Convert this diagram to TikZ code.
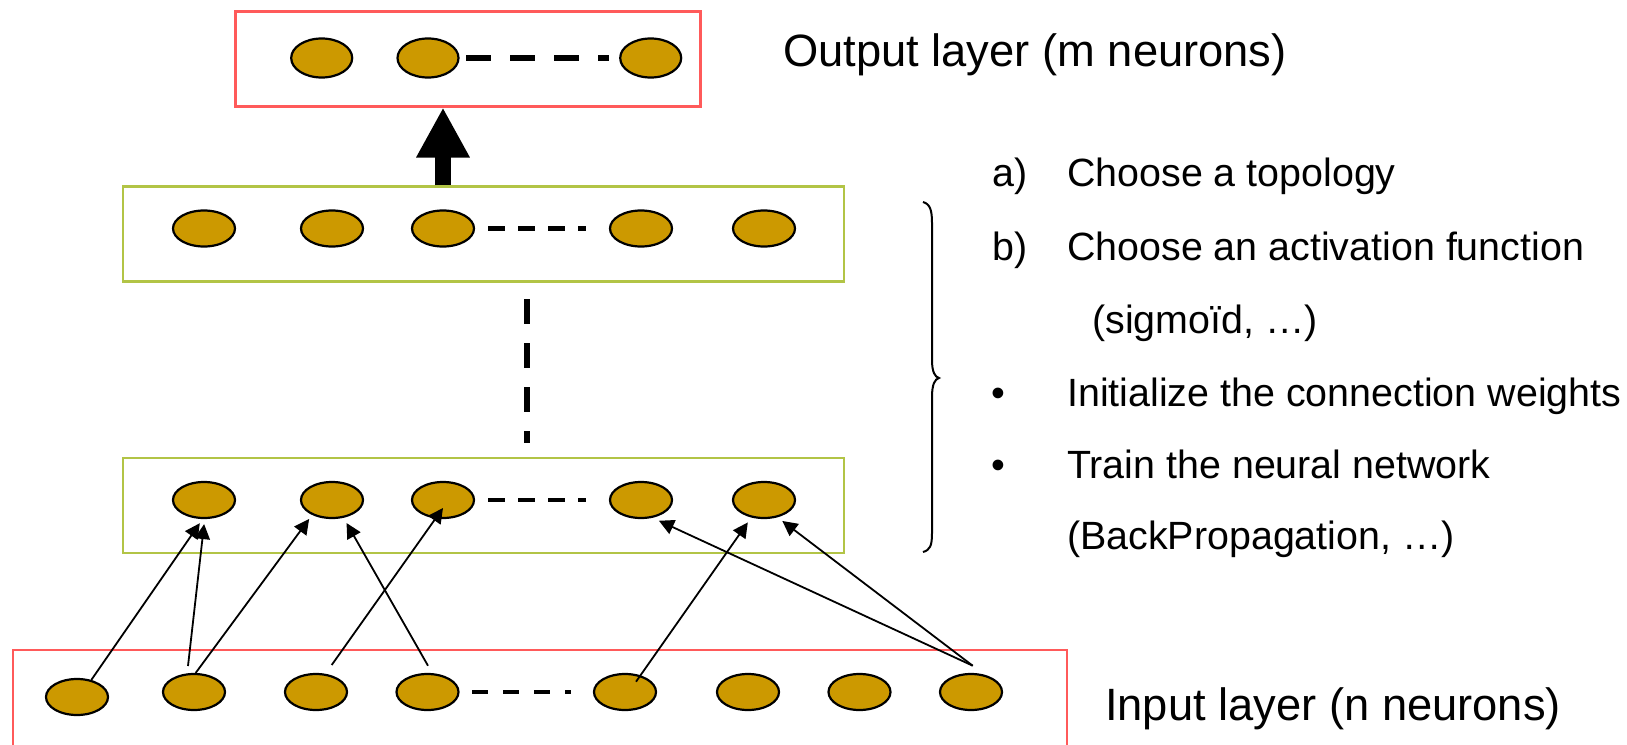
\documentclass[tikz,border=0pt]{standalone}
\usepackage{fontspec}
\setmainfont{Liberation Sans}
\usepackage{xcolor}
\usepackage{tikz}
\usetikzlibrary{arrows.meta,calc,shapes.geometric}

\definecolor{neurongold}{RGB}{204,153,0}
\definecolor{layerred}{RGB}{255,90,90}
\definecolor{layergreen}{RGB}{178,196,70}

\begin{document}
\begin{tikzpicture}[x=1pt, y=-1pt,
    neuron/.style={ellipse, draw, line width=2.2, fill=neurongold, inner sep=0,
      minimum width=62, minimum height=36},
    bigneuron/.style={neuron, minimum width=61, minimum height=39},
    redlayer/.style={draw=layerred, line width=2.5, inner sep=0},
    greenlayer/.style={draw=layergreen, line width=2.5, inner sep=0,
      minimum width=721, minimum height=95},
    conn/.style={-{Triangle[length=15pt,width=15pt]}, line width=1.8, shorten >=6},
    rowdots/.style={line width=4.5, dash pattern=on 17 off 13},
    bigtext/.style={anchor=base west, inner sep=0, font=\fontsize{45.3}{50}\selectfont},
    listtext/.style={anchor=base west, inner sep=0, font=\fontsize{39.4}{44}\selectfont}]
        \path[use as bounding box, clip] (0,0) rectangle (1627,744);
        % layers
        \node[redlayer, line width=3, minimum width=465, minimum height=95] (outBox) at (467.5,58.5) {};
        \node[greenlayer] (hidTop) at (483.5,234) {};
        \node[greenlayer] (hidBot) at (483.5,505.5) {};
        \node[redlayer, line width=2, minimum width=1054.5, minimum height=140] (inBox) at (539.75,720) {};
        % output neurons
        \node[bigneuron] (o1) at (321.7,58) {};
        \node[bigneuron] (o2) at (428,58) {};
        \node[bigneuron] (o3) at (650.7,58) {};
        % hidden neurons
        \node[neuron] (t1) at (204,228.5) {};
        \node[neuron] (t2) at (332,228.5) {};
        \node[neuron] (t3) at (443,228.5) {};
        \node[neuron] (t4) at (641,228.5) {};
        \node[neuron] (t5) at (764,228.5) {};
        \node[neuron] (b1) at (204,500) {};
        \node[neuron] (b2) at (332,500) {};
        \node[neuron] (b3) at (443,500) {};
        \node[neuron] (b4) at (641,500) {};
        \node[neuron] (b5) at (764,500) {};
        % input neurons
        \node[neuron] (i1) at (77,697) {};
        \node[neuron] (i2) at (194,692) {};
        \node[neuron] (i3) at (316,692) {};
        \node[neuron] (i4) at (427.5,692) {};
        \node[neuron] (i5) at (625,692) {};
        \node[neuron] (i6) at (748,692) {};
        \node[neuron] (i7) at (859.5,692) {};
        \node[neuron] (i8) at (971,692) {};
        % dots between neurons
        \draw[line width=6, dash pattern=on 25 off 19, shorten <=6.5, shorten >=10] (o2.east) -- (o3.west);
        \draw[rowdots, shorten <=13, shorten >=23] (t3.east) -- (t4.west);
        \draw[rowdots, shorten <=13, shorten >=23] (b3.east) -- (b4.west);
        \draw[line width=4.5, dash pattern=on 16 off 15, shorten <=12.5, shorten >=22] (i4.east) -- (i5.west);
        \draw[line width=6.5, dash pattern=on 25 off 19] (527,299.3) -- (527,443.3);
        % big arrow to the output layer
        \draw[line width=16, -{Triangle[length=50pt,width=50pt]}] (t3 |- hidTop.north) -- (t3 |- outBox.south);
        % connections
        \coordinate (p2) at (188,666);
        \coordinate (p4) at (428,665.7);
        \coordinate (p5) at (331.7,665);
        \coordinate (p6) at (636,681.7);
        \coordinate (p7) at (972.7,665.7);
        \draw[conn, shorten >=5] (i1.50) -- (b1.266);
        \draw[conn, shorten >=5] (p2) -- (b1.272);
        \draw[conn, shorten >=5] (i2.85) -- (b2.217);
        \draw[conn] (p4) -- (b2.303);
        \draw[conn, shorten >=0] (p5) -- ($(b3.center)+(0,8)$);
        \draw[conn] (p6) -- (b5.234);
        \draw[conn, shorten >=7] (p7) -- (b4.303);
        \draw[conn] (p7) -- (b5.308);
        % brace
        \draw[line width=2] (923,202) .. controls (930,204) and (932,210) .. (932,223) -- (932,360)
          .. controls (932,372) and (935,377) .. (939,378) .. controls (935,379) and (932,384) .. (932,397)
          -- (932,533) .. controls (932,546) and (930,550) .. (923,552);
        % labels
        \node[bigtext] (outLbl) at (783,66) {Output layer (m neurons)};
        \node[bigtext] (inLbl) at (1105,720) {Input layer (n neurons)};
        \node[listtext] (ka) at (992,186) {a)};
        \node[listtext] (ta) at (1067,186) {Choose a topology};
        \node[listtext] (kb) at (992,260) {b)};
        \node[listtext] (tb) at (1067,260) {Choose an activation function};
        \node[listtext] (tb2) at (1092,333) {(sigmoïd, …)};
        \node[listtext] (kc) at (991,406) {•};
        \node[listtext] (tc) at (1067,406) {Initialize the connection weights};
        \node[listtext] (kd) at (991,478) {•};
        \node[listtext] (td) at (1067,478) {Train the neural network};
        \node[listtext] (td2) at (1067,549) {(BackPropagation, …)};
  \end{tikzpicture}
\end{document}
